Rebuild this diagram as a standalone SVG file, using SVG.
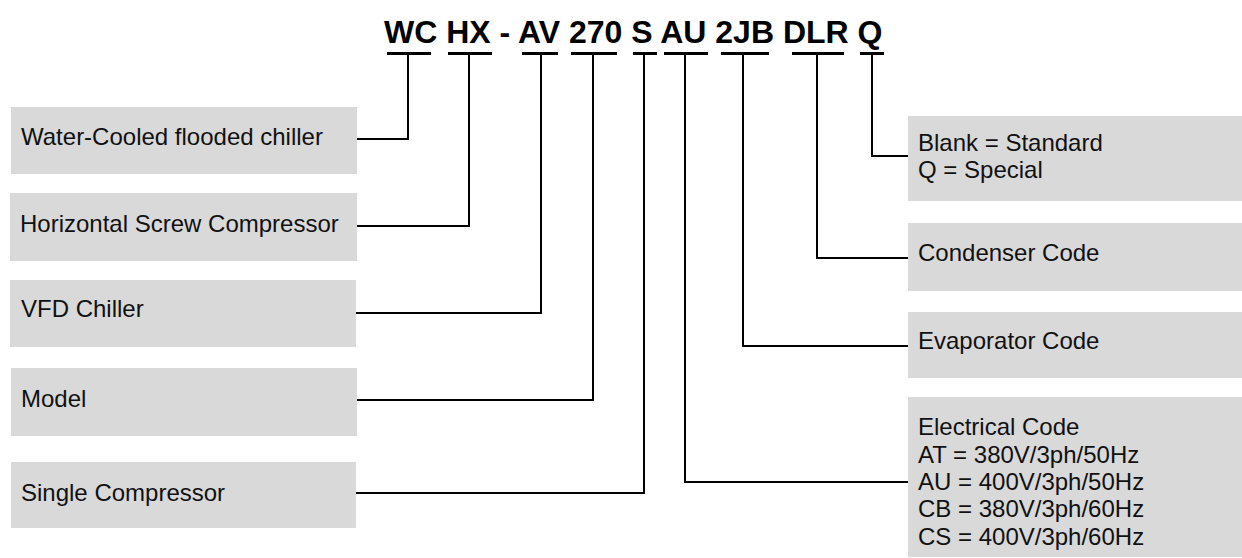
<svg xmlns="http://www.w3.org/2000/svg" width="1242" height="558" viewBox="0 0 1242 558">
<style>
.box{fill:#d9d9d9}
.t{font-family:"Liberation Sans",Arial,sans-serif;font-size:24px;fill:#111}
.title{font-family:"Liberation Sans",Arial,sans-serif;font-size:32px;font-weight:bold;fill:#000}
.bar{stroke:#000;stroke-width:3}
.c{fill:none;stroke:#000;stroke-width:2}
</style>
<rect width="1242" height="558" fill="#fff"/>
<text class="title" x="384" y="43">WC HX - AV 270 S AU 2JB DLR Q</text>
<g id="bars">
<line class="bar" x1="387" y1="53.5" x2="431" y2="53.5"/>
<line class="bar" x1="448" y1="53.5" x2="492" y2="53.5"/>
<line class="bar" x1="522" y1="53.5" x2="558" y2="53.5"/>
<line class="bar" x1="571" y1="53.5" x2="617" y2="53.5"/>
<line class="bar" x1="633" y1="53.5" x2="657" y2="53.5"/>
<line class="bar" x1="664" y1="53.5" x2="708" y2="53.5"/>
<line class="bar" x1="721" y1="53.5" x2="769" y2="53.5"/>
<line class="bar" x1="792" y1="53.5" x2="844" y2="53.5"/>
<line class="bar" x1="860" y1="53.5" x2="884" y2="53.5"/>
</g>
<g id="n1"><rect class="box" x="11" y="107" width="346" height="67"/><text class="t" x="21" y="145">Water-Cooled flooded chiller</text></g>
<g id="n2"><rect class="box" x="10" y="193" width="347" height="68"/><text class="t" x="20" y="232">Horizontal Screw Compressor</text></g>
<g id="n3"><rect class="box" x="10" y="280" width="346" height="67"/><text class="t" x="21" y="317">VFD Chiller</text></g>
<g id="n4"><rect class="box" x="11" y="368" width="346" height="68"/><text class="t" x="21" y="407">Model</text></g>
<g id="n5"><rect class="box" x="11" y="462" width="345" height="66"/><text class="t" x="21" y="501">Single Compressor</text></g>
<g id="n6"><rect class="box" x="908" y="116" width="334" height="85"/><text class="t" x="918" y="151">Blank = Standard</text><text class="t" x="918" y="178">Q = Special</text></g>
<g id="n7"><rect class="box" x="908" y="223" width="334" height="68"/><text class="t" x="918" y="261">Condenser Code</text></g>
<g id="n8"><rect class="box" x="908" y="312" width="334" height="66"/><text class="t" x="918" y="349">Evaporator Code</text></g>
<g id="n9"><rect class="box" x="908" y="397" width="334" height="160"/><text class="t" x="918" y="435">Electrical Code</text><text class="t" x="918" y="463">AT = 380V/3ph/50Hz</text><text class="t" x="918" y="490">AU = 400V/3ph/50Hz</text><text class="t" x="918" y="517">CB = 380V/3ph/60Hz</text><text class="t" x="918" y="545">CS = 400V/3ph/60Hz</text></g>
<g id="connectors">
<polyline class="c" points="357,139 408,139 408,54"/>
<polyline class="c" points="357,226 469,226 469,54"/>
<polyline class="c" points="356,313 541,313 541,54"/>
<polyline class="c" points="357,400 593,400 593,54"/>
<polyline class="c" points="356,493 644,493 644,54"/>
<polyline class="c" points="908,482 685,482 685,54"/>
<polyline class="c" points="908,346 743,346 743,54"/>
<polyline class="c" points="908,258 817,258 817,54"/>
<polyline class="c" points="908,156 872,156 872,54"/>
</g>
</svg>
